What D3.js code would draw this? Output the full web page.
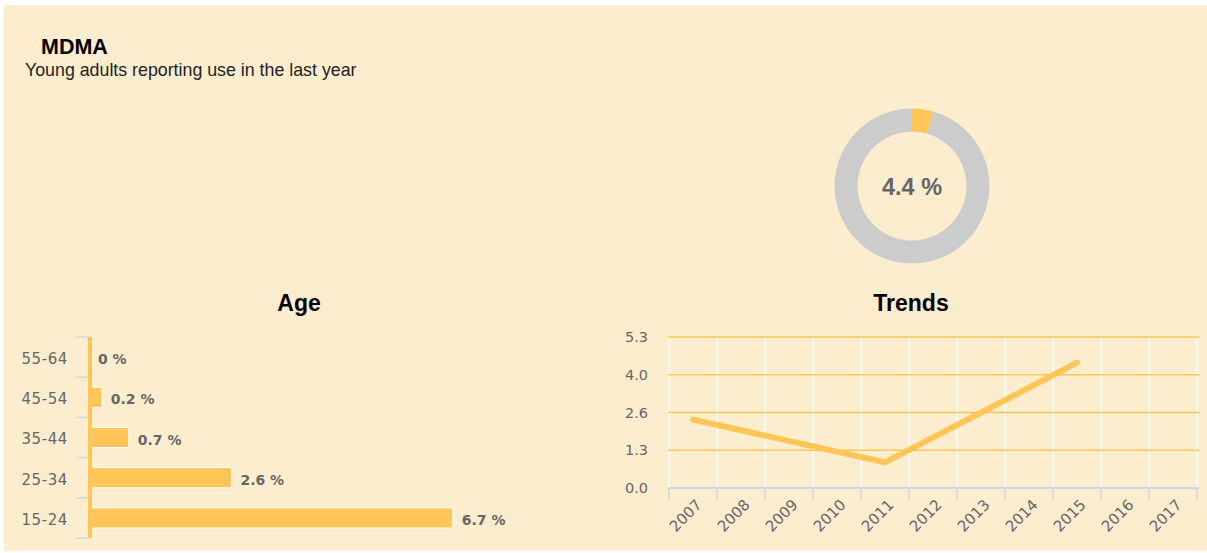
<!DOCTYPE html>
<html>
<head>
    <meta charset="utf-8" />
    <title>MDMA</title>
    <script src="https://d3js.org/d3.v7.min.js"></script>
    <style>
        html, body {
            margin: 0;
            padding: 0;
            background-color: #fff;
        }

        .panel {
            position: absolute;
            left: 4px;
            top: 5px;
            width: 1203px;
            height: 546px;
            background-color: #fdedcf;
        }

        svg {
            position: absolute;
            left: 0;
            top: 0;
        }
    </style>
</head>
<body>
    <div class="panel"></div>
    <div class="canvas"></div>
    <script>
        // share of young adults, shown in the donut
        var lastYear = 4.4;

        // age groups (bar chart)
        var ageGroups = ["15-24", "25-34", "35-44", "45-54", "55-64"];
        var ageValues = [6.7, 2.6, 0.7, 0.2, 0];

        // trend line
        var years = ["2007", "2008", "2009", "2010", "2011", "2012", "2013", "2014", "2015", "2016", "2017"];
        var trendValues = [2.4, null, null, null, 0.9, null, null, null, 4.4, null, null];
        var trendTicks = [0, 1.325, 2.65, 3.975, 5.3];
        var trendTickLabels = ["0.0", "1.3", "2.6", "4.0", "5.3"];

        var width = 1207, height = 553;
        var orange = "#ffc556";
        var grey = "#666666";
        var axisBlue = "#ccd6eb";
        var labelFont = "'DejaVu Sans', Verdana, sans-serif";
        var headFont = "'Liberation Sans', Arial, Helvetica, sans-serif";

        var svg = d3.select(".canvas")
                    .append("svg")
                    .attr("width", width)
                    .attr("height", height);

        // titles
        svg.append("text")
            .attr("x", 41).attr("y", 54)
            .style("font-family", headFont)
            .style("font-weight", "bold")
            .style("font-size", "21.5px")
            .attr("fill", "#000")
            .text("MDMA");

        svg.append("text")
            .attr("x", 25).attr("y", 76)
            .style("font-family", headFont)
            .style("font-size", "17.8px")
            .attr("fill", "#222")
            .text("Young adults reporting use in the last year");

        svg.append("text")
            .attr("x", 299).attr("y", 311)
            .attr("text-anchor", "middle")
            .style("font-family", headFont)
            .style("font-weight", "bold")
            .style("font-size", "23px")
            .attr("fill", "#000")
            .text("Age");

        svg.append("text")
            .attr("x", 911).attr("y", 311)
            .attr("text-anchor", "middle")
            .style("font-family", headFont)
            .style("font-weight", "bold")
            .style("font-size", "23px")
            .attr("fill", "#000")
            .text("Trends");

        // ---------- donut ----------
        var donut = svg.append("g").attr("transform", "translate(912,186)");
        var pie = d3.pie().sort(null).value(function(d) { return d; });
        var arc = d3.arc().innerRadius(54.5).outerRadius(77.5);

        donut.selectAll("path")
            .data(pie([lastYear, 100 - lastYear]))
            .enter()
            .append("path")
            .attr("d", arc)
            .attr("fill", function(d, i) { return i == 0 ? orange : "#cccccc"; });

        donut.append("text")
            .attr("x", 0).attr("y", 9)
            .attr("text-anchor", "middle")
            .style("font-family", headFont)
            .style("font-weight", "bold")
            .style("font-size", "23.5px")
            .attr("fill", grey)
            .text(lastYear + " %");

        // ---------- age bars ----------
        var yAge = d3.scaleBand()
            .domain(ageGroups.slice().reverse())
            .range([337, 538])
            .paddingInner(0.5)
            .paddingOuter(0.25);

        var xAge = d3.scaleLinear().domain([0, 8]).range([91, 91 + 54 * 8]);

        var ageAxis = svg.append("g")
            .attr("transform", "translate(90,2)")
            .call(d3.axisLeft(yAge).tickSize(0).tickPadding(22));
        ageAxis.select(".domain").remove();
        ageAxis.selectAll("text")
            .style("font-family", labelFont)
            .style("font-size", "15px")
            .style("letter-spacing", "0.6px")
            .attr("fill", grey);

        // tick marks between categories
        var ageBounds = ageGroups.map(function(d) { return yAge(d) - yAge.step() * yAge.paddingInner() / 2; });
        ageBounds.push(d3.max(ageBounds) + yAge.step());
        svg.append("g").selectAll("line")
            .data(ageBounds)
            .enter()
            .append("line")
            .attr("x1", 76).attr("x2", 90)
            .attr("y1", function(d) { return d; })
            .attr("y2", function(d) { return d; })
            .attr("stroke", axisBlue)
            .attr("stroke-width", 1.5);

        svg.append("g").selectAll("rect")
            .data(ageValues)
            .enter()
            .append("rect")
            .attr("x", xAge(0))
            .attr("y", function(d, i) { return yAge(ageGroups[i]); })
            .attr("width", function(d) { return xAge(d) - xAge(0); })
            .attr("height", yAge.bandwidth())
            .attr("fill", orange)
            .attr("stroke", "#fff")
            .attr("stroke-width", 1);

        svg.append("line")
            .attr("x1", 90).attr("x2", 90)
            .attr("y1", yAge.range()[0]).attr("y2", yAge.range()[1])
            .attr("stroke", orange)
            .attr("stroke-width", 4);

        svg.append("g").selectAll("text")
            .data(ageValues)
            .enter()
            .append("text")
            .attr("x", function(d) { return xAge(d) + (d > 0 ? 9 : 7); })
            .attr("y", function(d, i) { return yAge(ageGroups[i]) + yAge.bandwidth() / 2 + 7; })
            .style("font-family", labelFont)
            .style("font-weight", "bold")
            .style("font-size", "14px")
            .attr("fill", grey)
            .text(function(d) { return d + " %"; });

        // ---------- trends ----------
        var xT = d3.scaleBand().domain(years).range([669, 1197]);
        var yT = d3.scaleLinear().domain([0, 5.3]).range([488, 337]);

        var bounds = years.map(function(d) { return xT(d); });
        bounds.push(xT.range()[1]);

        // vertical white grid
        svg.append("g").selectAll("line")
            .data(bounds)
            .enter()
            .append("line")
            .attr("x1", function(d) { return d; })
            .attr("x2", function(d) { return d; })
            .attr("y1", yT(5.3)).attr("y2", yT(0))
            .attr("stroke", "#fff")
            .attr("stroke-width", 1.5);

        // horizontal grid
        svg.append("g").selectAll("line")
            .data(trendTicks.slice(1))
            .enter()
            .append("line")
            .attr("x1", 668).attr("x2", 1199)
            .attr("y1", function(d) { return yT(d); })
            .attr("y2", function(d) { return yT(d); })
            .attr("stroke", orange)
            .attr("stroke-width", 1.5);

        var yAxisT = svg.append("g")
            .attr("transform", "translate(669,0)")
            .call(d3.axisLeft(yT).tickValues(trendTicks).tickSize(0).tickPadding(21)
                .tickFormat(function(d, i) { return trendTickLabels[i]; }));
        yAxisT.select(".domain").remove();
        yAxisT.selectAll("text")
            .style("font-family", labelFont)
            .style("font-size", "14.5px")
            .attr("fill", grey);

        // x axis line and ticks
        svg.append("line")
            .attr("x1", 668).attr("x2", 1199)
            .attr("y1", yT(0)).attr("y2", yT(0))
            .attr("stroke", axisBlue)
            .attr("stroke-width", 2);

        svg.append("g").selectAll("line")
            .data(bounds)
            .enter()
            .append("line")
            .attr("x1", function(d) { return d; })
            .attr("x2", function(d) { return d; })
            .attr("y1", yT(0)).attr("y2", yT(0) + 13)
            .attr("stroke", axisBlue)
            .attr("stroke-width", 1.5);

        svg.append("g").selectAll("text")
            .data(years)
            .enter()
            .append("text")
            .attr("transform", function(d) {
                return "translate(" + (xT(d) + xT.bandwidth() / 2 + 6) + "," + (yT(0) + 14) + ") rotate(-45)";
            })
            .attr("text-anchor", "end")
            .attr("dy", "0.35em")
            .style("font-family", labelFont)
            .style("font-size", "15px")
            .attr("fill", grey)
            .text(function(d) { return d; });

        var points = years.map(function(d, i) { return {year: d, value: trendValues[i]}; })
            .filter(function(d) { return d.value != null; });

        var line = d3.line()
            .x(function(d) { return xT(d.year) + xT.bandwidth() / 2; })
            .y(function(d) { return yT(d.value); });

        svg.append("path")
            .datum(points)
            .attr("d", line)
            .attr("fill", "none")
            .attr("stroke", orange)
            .attr("stroke-width", 6)
            .attr("stroke-linecap", "round")
            .attr("stroke-linejoin", "round");
    </script>
</body>
</html>
